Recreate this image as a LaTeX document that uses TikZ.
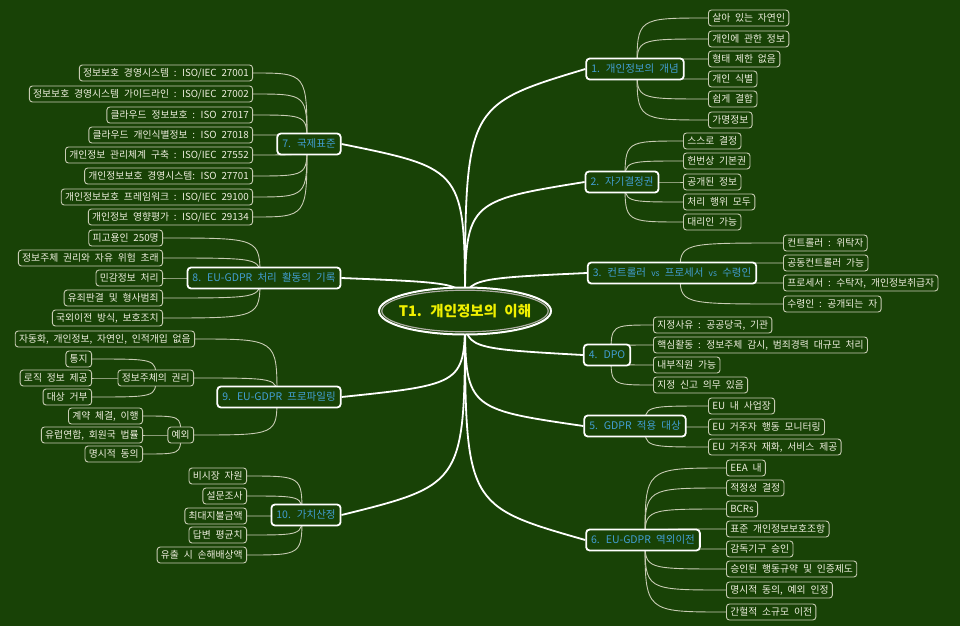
\documentclass[tikz,border=0pt]{standalone}
\usepackage{fontspec}
\setmainfont{Noto Sans CJK KR}[WordSpace=2.2]
\usetikzlibrary{calc}
\definecolor{bgc}{RGB}{24,66,6}
\definecolor{maintext}{RGB}{66,158,210}
\definecolor{leafc}{RGB}{200,204,180}
\definecolor{leaftext}{RGB}{238,238,222}
\definecolor{rootline}{RGB}{175,175,165}
\definecolor{roottext}{RGB}{240,240,0}
\pgfdeclarelayer{back}
\pgfdeclarelayer{lines}
\pgfsetlayers{back,lines,main}
\tikzset{
  leaf/.style={draw=leafc, line width=0.9pt, rounded corners=3pt, fill=bgc, text=leaftext,
    font=\fontsize{9.8}{11}\selectfont, inner xsep=3.8pt, inner ysep=1pt, minimum height=16pt},
  mainbox/.style={draw=white, line width=1.8pt, rounded corners=3.5pt, fill=bgc, text=maintext,
    font=\fontsize{10.5}{12}\selectfont, inner xsep=5pt, inner ysep=1pt, minimum height=21pt},
  roottxt/.style={text=roottext, font=\fontsize{14.5}{17}\selectfont\bfseries, inner sep=0pt},
  rootouter/.style={draw=white, line width=2pt, fill=bgc},
  rootinner/.style={draw=rootline, line width=1.2pt},
  leafline/.style={draw=leafc, line width=0.9pt},
  mainline/.style={draw=white, line width=1.8pt},
  rl/.style={anchor=west, leaf},
  ll/.style={anchor=east, leaf}
}
\newcommand{\rleaf}[2]{\draw[leafline] (#1) .. controls (#1 |- #2.west) .. (#2.west);}
\newcommand{\lleaf}[2]{\draw[leafline] (#1) .. controls (#1 |- #2.east) .. (#2.east);}
\newcommand{\rmain}[1]{\draw[mainline] (root.center) .. controls ($(root.center |- #1.west)!0.15!(root.center)$) .. (#1.west);}
\newcommand{\lmain}[1]{\draw[mainline] (root.center) .. controls ($(root.center |- #1.east)!0.15!(root.center)$) .. (#1.east);}
\begin{document}
\begin{tikzpicture}[x=1pt,y=-1pt]
\useasboundingbox (0,0) rectangle (960,626);
\begin{pgfonlayer}{back}
\fill[bgc] (0,0) rectangle (960,626);
\end{pgfonlayer}

\coordinate (rc) at (465,311);
\path[rootouter] (rc) ellipse [x radius=86, y radius=23.5];
\path[rootinner] (rc) ellipse [x radius=83.2, y radius=20.8];
\node[roottxt] (root) at (rc) {T1. 개인정보의 이해};

% main nodes
\node[mainbox] (m1) at (635,69) {1. 개인정보의 개념};
\node[mainbox] (m2) at (622,182) {2. 자기결정권};
\node[mainbox] (m3) at (672,273) {3. 컨트롤러 {\fontsize{8.5}{10}\selectfont vs} 프로세서 {\fontsize{8.5}{10}\selectfont vs} 수령인};
\node[mainbox] (m4) at (607,355) {4. DPO};
\node[mainbox] (m5) at (635,426) {5. GDPR 적용 대상};
\node[mainbox] (m6) at (643,540) {6. EU-GDPR 역외이전};
\node[mainbox] (m7) at (309,144) {7. 국제표준};
\node[mainbox] (m8) at (264,278) {8. EU-GDPR 처리 활동의 기록};
\node[mainbox] (m9) at (279,397) {9. EU-GDPR 프로파일링};
\node[mainbox] (m10) at (306,515) {10. 가치산정};

% branch points
\coordinate (b1) at (637,69);
\coordinate (b2) at (625,182);
\coordinate (b3) at (680,273);
\coordinate (b4) at (611,355);
\coordinate (b5) at (645,426);
\coordinate (b6) at (645,540);
\coordinate (b7) at (307,144);
\coordinate (b8) at (260,278);
\coordinate (b9) at (277,397);
\coordinate (b10) at (302,515);

% 1
\node[rl] (a1) at (708,18) {살아 있는 자연인};
\node[rl] (a2) at (708,39) {개인에 관한 정보};
\node[rl] (a3) at (708,59) {형태 제한 없음};
\node[rl] (a4) at (708,79) {개인 식별};
\node[rl] (a5) at (708,99) {쉽게 결합};
\node[rl] (a6) at (708,120) {가명정보};
% 2
\node[rl] (c1) at (683,141) {스스로 결정};
\node[rl] (c2) at (683,161) {헌번상 기본권};
\node[rl] (c3) at (683,182) {공개된 정보};
\node[rl] (c4) at (683,202) {처리 행위 모두};
\node[rl] (c5) at (683,222) {대리인 가능};
% 3
\node[rl] (d1) at (783,243) {컨트롤러 : 위탁자};
\node[rl] (d2) at (783,263) {공동컨트롤러 가능};
\node[rl] (d3) at (783,283) {프로세서 : 수탁자, 개인정보취급자};
\node[rl] (d4) at (783,304) {수령인 : 공개되는 자};
% 4
\node[rl] (e1) at (653,325) {지정사유 : 공공당국, 기관};
\node[rl] (e2) at (653,345) {핵심활동 : 정보주체 감시, 범죄경력 대규모 처리};
\node[rl] (e3) at (653,365) {내부직원 가능};
\node[rl] (e4) at (653,385) {지정 신고 의무 있음};
% 5
\node[rl] (f1) at (708,406) {EU 내 사업장};
\node[rl] (f2) at (708,427) {EU 거주자 행동 모니터링};
\node[rl] (f3) at (708,447) {EU 거주자 재화, 서비스 제공};
% 6
\node[rl] (g1) at (726,468) {EEA 내};
\node[rl] (g2) at (726,488) {적정성 결정};
\node[rl] (g3) at (726,509) {BCRs};
\node[rl] (g4) at (726,529) {표준 개인정보보호조항};
\node[rl] (g5) at (726,549) {감독기구 승인};
\node[rl] (g6) at (726,569) {승인된 행동규약 및 인증제도};
\node[rl] (g7) at (726,590) {명시적 동의, 예외 인정};
\node[rl] (g8) at (726,612) {간헐적 소규모 이전};
% 7
\node[ll] (h1) at (253,73) {정보보호 경영시스템 : ISO/IEC 27001};
\node[ll] (h2) at (253,94) {정보보호 경영시스템 가이드라인 : ISO/IEC 27002};
\node[ll] (h3) at (253,115) {클라우드 정보보호 : ISO 27017};
\node[ll] (h4) at (253,135) {클라우드 개인식별정보 : ISO 27018};
\node[ll] (h5) at (253,155) {개인정보 관리체계 구축 : ISO/IEC 27552};
\node[ll] (h6) at (253,176) {개인정보보호 경영시스템: ISO 27701};
\node[ll] (h7) at (253,197) {개인정보보호 프레임워크 : ISO/IEC 29100};
\node[ll] (h8) at (253,217) {개인정보 영향평가 : ISO/IEC 29134};
% 8
\node[ll] (i1) at (163,238) {피고용인 250명};
\node[ll] (i2) at (163,258) {정보주체 권리와 자유 위험 초래};
\node[ll] (i3) at (163,278) {민감정보 처리};
\node[ll] (i4) at (163,298) {유죄판결 및 형사범죄};
\node[ll] (i5) at (163,318) {국외이전 방식, 보호조치};
% 9
\node[ll] (j1) at (195,339) {자동화, 개인정보, 자연인, 인적개입 없음};
\node[ll] (j2) at (194,378) {정보주체의 권리};
\node[ll] (j3) at (194,435) {예외};
\node[ll] (k1) at (92,359) {통지};
\node[ll] (k2) at (92,378) {로직 정보 제공};
\node[ll] (k3) at (92,397) {대상 거부};
\node[ll] (n1) at (143,416) {계약 체결, 이행};
\node[ll] (n2) at (143,435) {유럽연합, 회원국 법률};
\node[ll] (n3) at (143,454) {명시적 동의};
% 10
\node[ll] (p1) at (247,476) {비시장 자원};
\node[ll] (p2) at (247,496) {설문조사};
\node[ll] (p3) at (247,516) {최대지불금액};
\node[ll] (p4) at (247,535) {답변 평균치};
\node[ll] (p5) at (247,555) {유출 시 손해배상액};

\begin{pgfonlayer}{lines}
\rmain{m1}\rmain{m2}\rmain{m3}\rmain{m4}\rmain{m5}\rmain{m6}
\lmain{m7}\lmain{m8}\lmain{m9}\lmain{m10}
\foreach \l in {a1,a2,a3,a4,a5,a6}{\rleaf{b1}{\l}}
\foreach \l in {c1,c2,c3,c4,c5}{\rleaf{b2}{\l}}
\foreach \l in {d1,d2,d3,d4}{\rleaf{b3}{\l}}
\foreach \l in {e1,e2,e3,e4}{\rleaf{b4}{\l}}
\foreach \l in {f1,f2,f3}{\rleaf{b5}{\l}}
\foreach \l in {g1,g2,g3,g4,g5,g6,g7,g8}{\rleaf{b6}{\l}}
\foreach \l in {h1,h2,h3,h4,h5,h6,h7,h8}{\lleaf{b7}{\l}}
\foreach \l in {i1,i2,i3,i4,i5}{\lleaf{b8}{\l}}
\foreach \l in {j1,j2,j3}{\lleaf{b9}{\l}}
\foreach \l in {k1,k2,k3}{\lleaf{j2.center}{\l}}
\foreach \l in {n1,n2,n3}{\lleaf{j3.center}{\l}}
\foreach \l in {p1,p2,p3,p4,p5}{\lleaf{b10}{\l}}
\end{pgfonlayer}
\end{tikzpicture}
\end{document}
